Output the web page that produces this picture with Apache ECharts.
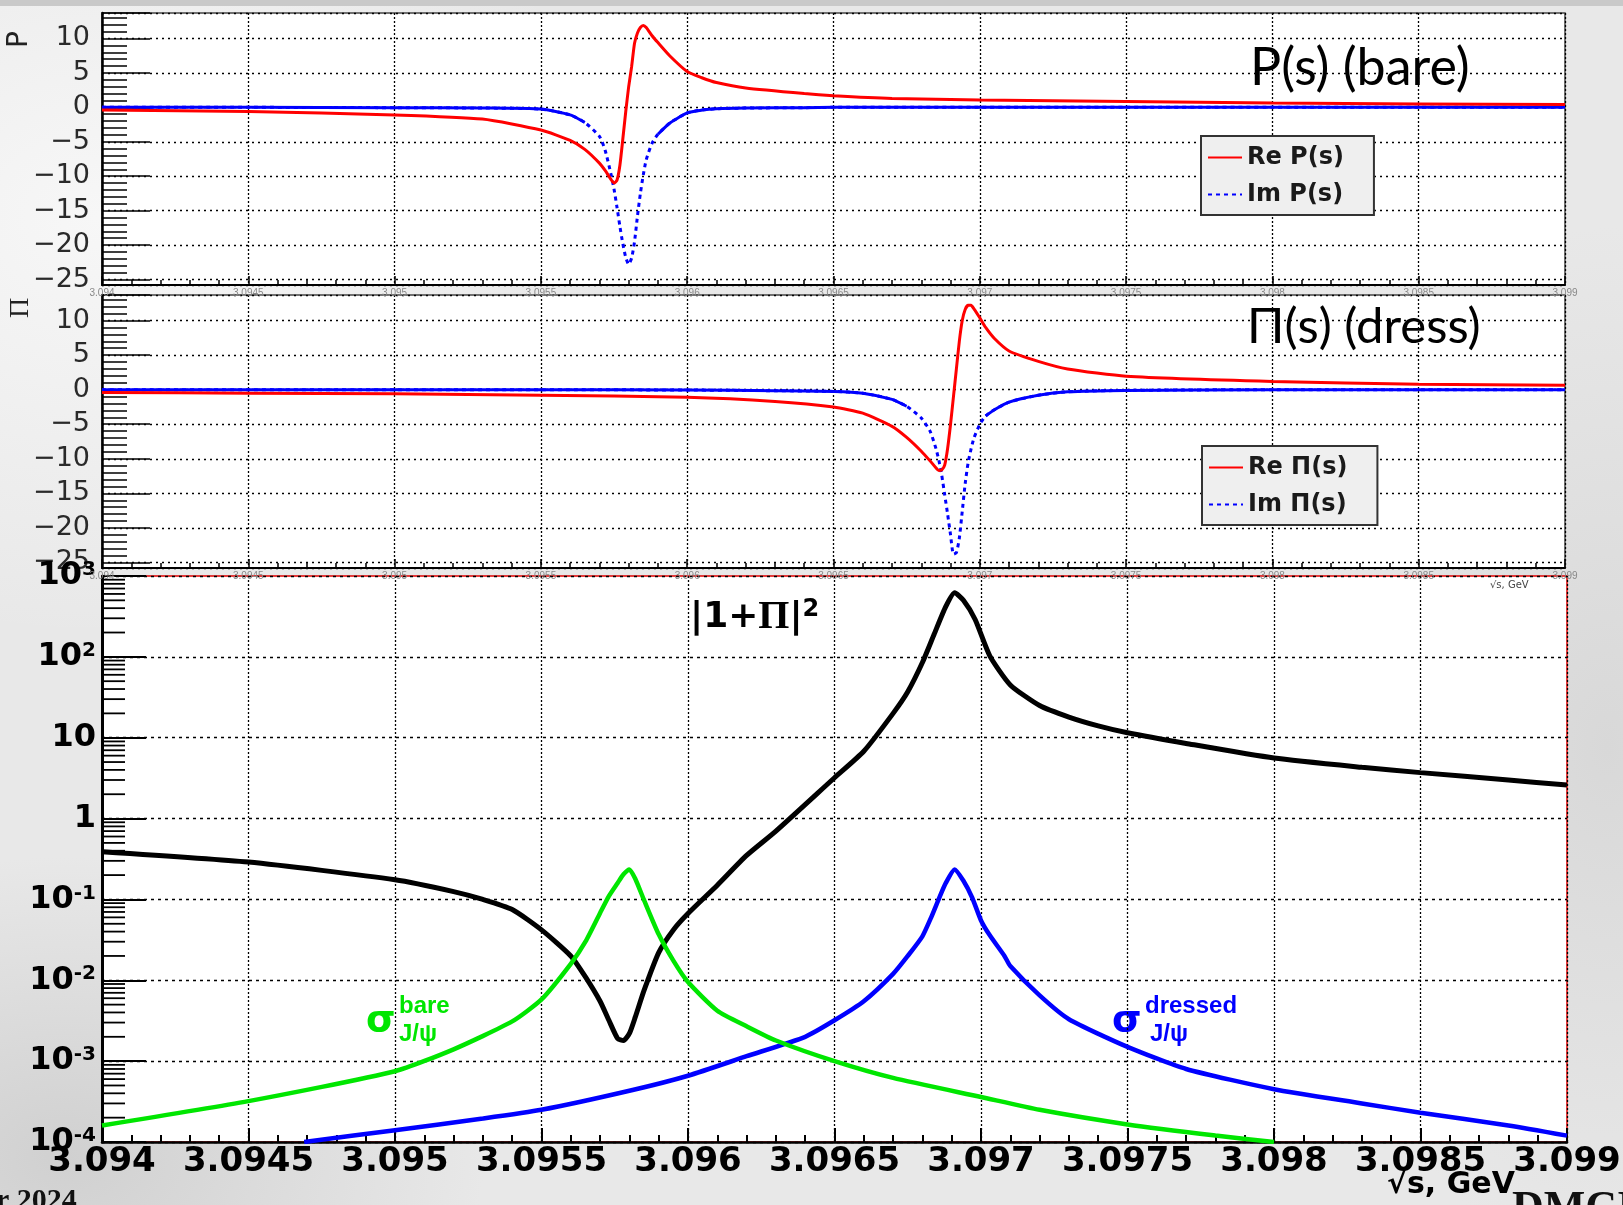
<!DOCTYPE html>
<html>
<head>
<meta charset="utf-8">
<title>J/psi: P(s), Pi(s), |1+Pi|^2</title>
<script src="https://cdn.jsdelivr.net/npm/echarts@6/dist/echarts.min.js"></script>
<style>
  html, body { margin: 0; padding: 0; }
  body {
    width: 1623px; height: 1205px; overflow: hidden;
    background:
      radial-gradient(ellipse 520px 420px at 6% 18%, #f7f7f7, rgba(247,247,247,0)),
      radial-gradient(ellipse 420px 300px at 4% 96%, #d0d0d0, rgba(208,208,208,0)),
      radial-gradient(ellipse 300px 520px at 99% 62%, #d8d8d8, rgba(216,216,216,0)),
      #e8e8e8;
  }
  #chart { width: 1623px; height: 1205px; }
</style>
</head>
<body>
<div id="chart"></div>
<script>
// ---- data ----
// top panel: P(s), bare
const sBare = [3.0940, 3.0945, 3.0950, 3.0953, 3.0955, 3.0956, 3.09565, 3.0957, 3.09572, 3.09574,
  3.09575, 3.09576, 3.09577, 3.09578, 3.09579, 3.0958, 3.09581, 3.09582, 3.09583, 3.09584,
  3.09585, 3.09586, 3.09588, 3.0959, 3.09594, 3.0960, 3.09605, 3.0961, 3.0962, 3.0964,
  3.0965, 3.0967, 3.0970, 3.0975, 3.0980, 3.0985, 3.0990];
const reBare = [-0.4, -0.6, -1.1, -1.7, -3.3, -4.8, -6.1, -8.1, -9.2, -10.5,
  -11.0, -10.6, -8.4, -4.6, -0.6, 3.0, 5.9, 9.3, 10.8, 11.6,
  11.9, 11.6, 10.4, 9.4, 7.5, 5.2, 4.3, 3.6, 2.8, 2.0,
  1.7, 1.3, 1.05, 0.85, 0.62, 0.5, 0.4];
const imBare = [0, 0, -0.05, -0.1, -0.25, -1.1, -2.2, -4.2, -6.3, -9.8,
  -11.9, -14.5, -17.3, -19.8, -21.8, -22.8, -21.9, -19.5, -15.8, -12.5,
  -9.8, -7.6, -5.2, -3.9, -2.3, -0.8, -0.4, -0.2, -0.1, -0.05,
  0, 0, 0, 0, 0, 0, 0];

// middle panel: Pi(s), dressed
const sDress = [3.0940, 3.0945, 3.0950, 3.0955, 3.0960, 3.0963, 3.0965, 3.0966, 3.0967, 3.09675,
  3.0968, 3.09683, 3.09685, 3.09686, 3.09687, 3.09688, 3.09689, 3.0969, 3.09691, 3.09692,
  3.09693, 3.09694, 3.09695, 3.09696, 3.09697, 3.09698, 3.0970, 3.09702, 3.09705, 3.0971,
  3.0972, 3.0973, 3.0975, 3.0980, 3.0985, 3.0990];
const reDress = [-0.4, -0.5, -0.6, -0.8, -1.1, -1.7, -2.5, -3.4, -5.3, -6.9,
  -8.9, -10.3, -11.3, -11.7, -11.6, -10.9, -8.5, -5.0, -1.0, 3.0,
  7.0, 10.0, 11.6, 12.2, 12.2, 11.7, 10.4, 9.0, 7.4, 5.6,
  4.1, 3.0, 1.95, 1.2, 0.8, 0.63];
const imDress = [0, 0, 0, 0, -0.05, -0.15, -0.25, -0.5, -1.4, -2.4,
  -4.1, -6.0, -8.5, -10.2, -12.4, -15.2, -18.0, -21.0, -23.8, -23.6,
  -21.5, -17.6, -13.6, -10.6, -8.6, -7.0, -5.0, -3.8, -2.9, -1.8,
  -0.8, -0.3, -0.1, 0, 0, 0];

// bottom panel: |1+Pi|^2 and the two cross sections (log scale)
const sDen = [3.0940, 3.0945, 3.0950, 3.0952, 3.0953, 3.0954, 3.0955, 3.0956, 3.09565, 3.0957,
  3.09573, 3.09576, 3.09578, 3.0958, 3.09582, 3.09585, 3.0959, 3.09595, 3.0960, 3.0961,
  3.0962, 3.0963, 3.0965, 3.0966, 3.0967, 3.09675, 3.0968, 3.09684, 3.09688, 3.09691,
  3.09694, 3.09698, 3.09703, 3.0971, 3.0972, 3.0973, 3.0974, 3.0975, 3.0977, 3.0980,
  3.0983, 3.0985, 3.0988, 3.0990];
const den = [0.39, 0.29, 0.175, 0.125, 0.1, 0.075, 0.042, 0.02, 0.011, 0.0055,
  0.0032, 0.0019, 0.0018, 0.0022, 0.0035, 0.0075, 0.022, 0.042, 0.067, 0.15,
  0.35, 0.7, 3.2, 6.8, 20, 37, 85, 190, 420, 620,
  500, 290, 103, 45, 25, 18, 14, 11.5, 8.5, 5.6,
  4.3, 3.7, 3.0, 2.6];
const sSigBare = [3.0940, 3.0945, 3.0950, 3.0952, 3.0954, 3.0955, 3.0956, 3.09565, 3.0957, 3.09573,
  3.09576, 3.09578, 3.0958, 3.09582, 3.09585, 3.0959, 3.09595, 3.0960, 3.0961, 3.0962,
  3.0963, 3.0965, 3.0967, 3.0970, 3.0972, 3.0975, 3.0978, 3.0980];
const sigBare = [1.6e-4, 3.2e-4, 7.5e-4, 1.4e-3, 3.1e-3, 5.8e-3, 0.016, 0.03, 0.068, 0.11,
  0.16, 0.205, 0.235, 0.18, 0.098, 0.037, 0.0175, 0.0095, 0.0042, 0.0027,
  0.0018, 1.0e-3, 6.2e-4, 3.6e-4, 2.5e-4, 1.65e-4, 1.2e-4, 1.0e-4];
const sSigDress = [3.09469, 3.0950, 3.0953, 3.0955, 3.0958, 3.0960, 3.0962, 3.0964, 3.0965, 3.0966,
  3.0967, 3.09675, 3.0968, 3.09683, 3.09686, 3.09688, 3.09691, 3.09694, 3.09697, 3.0970,
  3.09703, 3.09708, 3.0971, 3.0972, 3.0973, 3.0975, 3.0977, 3.0980, 3.0983, 3.0985,
  3.0988, 3.0990];
const sigDress = [1.0e-4, 1.4e-4, 1.95e-4, 2.5e-4, 4.3e-4, 6.6e-4, 1.15e-3, 2.0e-3, 3.2e-3, 5.5e-3,
  0.012, 0.02, 0.035, 0.06, 0.11, 0.16, 0.235, 0.17, 0.105, 0.055,
  0.036, 0.02, 0.015, 6.5e-3, 3.3e-3, 1.5e-3, 8.0e-4, 4.5e-4, 3.0e-4, 2.3e-4,
  1.6e-4, 1.2e-4];

const xMin = 3.094, xMax = 3.099, xStep = 0.0005;

// ---- helpers ----
const pairs = (xs, ys) => xs.map((x, i) => [x, ys[i]]);
// ROOT restarts the dash on every segment, so flat parts look solid
const flatPart = (xs, ys, cut) => xs.map((x, i) => [x, ys[i] > cut ? ys[i] : '-']);

const RED = '#ff0000', BLUE = '#0000ff', GREEN = '#00e600';
const SMOOTH = 0.2;
const fmtX = v => v.toFixed(4).replace(/0+$/, '');

function smallX(gridIndex) {
  return {
    type: 'value', gridIndex, min: xMin, max: xMax, interval: xStep,
    axisLine: { show: true, onZero: false, lineStyle: { color: '#000', width: 2 } },
    axisTick: { inside: true, length: 9, lineStyle: { color: '#000', width: 1.5 } },
    minorTick: { show: true, splitNumber: 5, length: 5, lineStyle: { color: '#000', width: 1.5 } },
    axisLabel: { fontSize: 10, color: '#888', margin: 3, formatter: fmtX },
    splitLine: { show: true, lineStyle: { color: '#000', width: 1.3, type: [2, 2] } }
  };
}

function linY(gridIndex) {
  return {
    type: 'value', gridIndex, min: -25.8, max: 13.7, splitNumber: 8,
    axisLine: { show: true, onZero: false, lineStyle: { color: '#000', width: 2.5 } },
    axisTick: { inside: true, length: 48, lineStyle: { color: '#000', width: 1.5 } },
    minorTick: { show: true, splitNumber: 5, length: 25, lineStyle: { color: '#000', width: 1.5 } },
    axisLabel: {
      showMinLabel: false, showMaxLabel: false, margin: 12,
      fontSize: 27, color: '#2a2a2a', fontFamily: 'DejaVu Sans',
      formatter: v => (v < 0 ? '\u2212' + Math.abs(v) : String(v))
    },
    splitLine: { show: true, lineStyle: { color: '#000', width: 1.3, type: [2, 4] } }
  };
}

// minor ticks 2..9 of each decade on the log axis
const logMinor = [];
for (let k = -4; k < 3; k++) {
  for (let m = 2; m < 10; m++) logMinor.push([xMin, m * Math.pow(10, k)]);
}

const legendBase = {
  orient: 'vertical', backgroundColor: '#efefef', borderColor: '#333', borderWidth: 2,
  borderRadius: 0, padding: [8, 30, 7, 6], itemGap: 10, itemWidth: 34, itemHeight: 3,
  selectedMode: false,
  itemStyle: { opacity: 0 },
  textStyle: { fontSize: 24, fontWeight: 'bold', color: '#1a1a1a', fontFamily: 'DejaVu Sans', lineHeight: 27 }
};

const chart = echarts.init(document.getElementById('chart'));
chart.setOption({
  animation: false,
  grid: [
    { left: 102, top: 13, width: 1463, height: 272, show: true, backgroundColor: '#fff', borderColor: '#444', borderWidth: 1.5, outerBoundsMode: 'none' },
    { left: 102, top: 295, width: 1463, height: 273, show: true, backgroundColor: '#fff', borderColor: '#444', borderWidth: 1.5, outerBoundsMode: 'none' },
    { left: 102, top: 576, width: 1465, height: 566, show: true, backgroundColor: '#fff', borderColor: '#e00000', borderWidth: 1.5, outerBoundsMode: 'none' }
  ],
  xAxis: [
    smallX(0),
    smallX(1),
    {
      type: 'value', gridIndex: 2, min: xMin, max: xMax, interval: xStep,
      axisLine: { show: true, onZero: false, lineStyle: { color: '#000', width: 2.5 } },
      axisTick: { inside: true, length: 14, lineStyle: { color: '#000', width: 2 } },
      minorTick: { show: true, splitNumber: 5, length: 7, lineStyle: { color: '#000', width: 2 } },
      axisLabel: { fontSize: 34, fontWeight: 'bold', color: '#000', fontFamily: 'DejaVu Sans', margin: 3, formatter: fmtX },
      splitLine: { show: true, lineStyle: { color: '#000', width: 1.3, type: [2, 2] } }
    }
  ],
  yAxis: [
    linY(0),
    linY(1),
    {
      type: 'log', gridIndex: 2, logBase: 10, min: 1e-4, max: 1e3, splitNumber: 7,
      axisLine: { show: true, onZero: false, lineStyle: { color: '#000', width: 3 } },
      axisTick: { inside: true, length: 44, lineStyle: { color: '#000', width: 2 } },
      axisLabel: {
        margin: 6, color: '#000',
        formatter: v => {
          const e = Math.round(Math.log10(v));
          if (e === 0) return '{b|1}';
          if (e === 1) return '{b|10}';
          return '{b|10}{s|' + e + '}';
        },
        rich: {
          b: { fontSize: 32, fontWeight: 'bold', fontFamily: 'DejaVu Sans', color: '#000' },
          s: { fontSize: 20, fontWeight: 'bold', fontFamily: 'DejaVu Sans', color: '#000', verticalAlign: 'top' }
        }
      },
      splitLine: { show: true, lineStyle: { color: '#000', width: 1.3, type: [3, 4] } }
    }
  ],
  legend: [
    Object.assign({}, legendBase, { data: ['Re P(s)', 'Im P(s)'], left: 1201, top: 136 }),
    Object.assign({}, legendBase, { data: ['Re \u03A0(s)', 'Im \u03A0(s)'], left: 1202, top: 446 })
  ],
  series: [
    // top panel
    { name: 'Im P(s)', type: 'line', xAxisIndex: 0, yAxisIndex: 0, symbol: 'none', smooth: SMOOTH,
      lineStyle: { color: BLUE, width: 3, type: [4, 4] }, itemStyle: { color: BLUE },
      data: pairs(sBare, imBare) },
    { name: 'imBareFlat', type: 'line', xAxisIndex: 0, yAxisIndex: 0, symbol: 'none', smooth: SMOOTH,
      lineStyle: { color: BLUE, width: 3 }, data: flatPart(sBare, imBare, -4) },
    { name: 'Re P(s)', type: 'line', xAxisIndex: 0, yAxisIndex: 0, symbol: 'none', smooth: SMOOTH,
      lineStyle: { color: RED, width: 3 }, itemStyle: { color: RED },
      data: pairs(sBare, reBare) },
    // middle panel
    { name: 'Im \u03A0(s)', type: 'line', xAxisIndex: 1, yAxisIndex: 1, symbol: 'none', smooth: SMOOTH,
      lineStyle: { color: BLUE, width: 3, type: [4, 4] }, itemStyle: { color: BLUE },
      data: pairs(sDress, imDress) },
    { name: 'imDressFlat', type: 'line', xAxisIndex: 1, yAxisIndex: 1, symbol: 'none', smooth: SMOOTH,
      lineStyle: { color: BLUE, width: 3 }, data: flatPart(sDress, imDress, -4) },
    { name: 'Re \u03A0(s)', type: 'line', xAxisIndex: 1, yAxisIndex: 1, symbol: 'none', smooth: SMOOTH,
      lineStyle: { color: RED, width: 3 }, itemStyle: { color: RED },
      data: pairs(sDress, reDress) },
    // bottom panel
    { name: '|1+\u03A0|^2', type: 'line', xAxisIndex: 2, yAxisIndex: 2, symbol: 'none', smooth: SMOOTH,
      lineStyle: { color: '#000', width: 5 }, data: pairs(sDen, den) },
    { name: 'sigma dressed', type: 'line', xAxisIndex: 2, yAxisIndex: 2, symbol: 'none', smooth: SMOOTH,
      lineStyle: { color: BLUE, width: 4.5 }, data: pairs(sSigDress, sigDress) },
    { name: 'sigma bare', type: 'line', xAxisIndex: 2, yAxisIndex: 2, symbol: 'none', smooth: SMOOTH,
      lineStyle: { color: GREEN, width: 4.5 }, data: pairs(sSigBare, sigBare) },
    { name: 'logMinorTicks', type: 'custom', xAxisIndex: 2, yAxisIndex: 2, silent: true, z: 5,
      data: logMinor,
      renderItem: (params, api) => {
        const p = api.coord([api.value(0), api.value(1)]);
        return { type: 'line', shape: { x1: p[0], y1: p[1], x2: p[0] + 23, y2: p[1] },
          style: { stroke: '#000', lineWidth: 1.8 } };
      } }
  ],
  graphic: [
    { type: 'rect', left: 0, top: 0, shape: { width: 1623, height: 6 }, style: { fill: '#c9c9c9' }, silent: true },
    { type: 'text', left: 1250, top: 42, style: { text: 'P(s) (bare)', font: '52px "Comic Sans MS", Lato, sans-serif', fill: '#000' } },
    { type: 'text', left: 1247, top: 303, style: { text: '\u03A0(s) (dress)', font: '49px "Comic Sans MS", Lato, sans-serif', fill: '#000' } },
    { type: 'text', x: 34, y: 48, rotation: Math.PI / 2, style: { text: 'P', font: '28px "DejaVu Sans"', fill: '#222', align: 'left', verticalAlign: 'bottom' } },
    { type: 'text', x: 35, y: 318, rotation: Math.PI / 2, style: { text: '\u03A0', font: '28px "Liberation Serif"', fill: '#222', align: 'left', verticalAlign: 'bottom' } },
    { type: 'text', left: 1490, top: 580, style: { text: '\u221As, GeV', font: '10px "DejaVu Sans"', fill: '#444' } },
    {
      type: 'text', left: 690, top: 598,
      style: {
        text: '{a||1+}{p|\u03A0}{a||}{s|2}',
        rich: {
          a: { fontSize: 36, fontWeight: 'bold', fontFamily: 'DejaVu Sans', fill: '#000' },
          p: { fontSize: 40, fontWeight: 'bold', fontFamily: 'Liberation Serif', fill: '#000' },
          s: { fontSize: 24, fontWeight: 'bold', fontFamily: 'DejaVu Sans', fill: '#000', verticalAlign: 'top' }
        }
      }
    },
    { type: 'text', left: 366, top: 1002, style: { text: '\u03C3', font: 'bold 38px "DejaVu Sans"', fill: GREEN } },
    { type: 'text', left: 399, top: 994, style: { text: 'bare', font: 'bold 24px "Liberation Sans"', fill: GREEN } },
    { type: 'text', left: 399, top: 1022, style: { text: 'J/\u03C8', font: 'bold 24px "Liberation Sans"', fill: GREEN } },
    { type: 'text', left: 1112, top: 1002, style: { text: '\u03C3', font: 'bold 38px "DejaVu Sans"', fill: BLUE } },
    { type: 'text', left: 1145, top: 994, style: { text: 'dressed', font: 'bold 24px "Liberation Sans"', fill: BLUE } },
    { type: 'text', left: 1150, top: 1022, style: { text: 'J/\u03C8', font: 'bold 24px "Liberation Sans"', fill: BLUE } },
    { type: 'text', left: 1512, top: 1188, style: { text: 'DMCI', font: 'bold 44px "Liberation Serif"', fill: '#111' } },
    { type: 'text', left: 1387, top: 1170, style: { text: '\u221As, GeV', font: 'bold 30px "DejaVu Sans"', fill: '#000' } },
    { type: 'text', left: -4, top: 1186, style: { text: 'r 2024', font: 'bold 30px "Liberation Serif"', fill: '#111' } }
  ]
});
</script>
</body>
</html>
